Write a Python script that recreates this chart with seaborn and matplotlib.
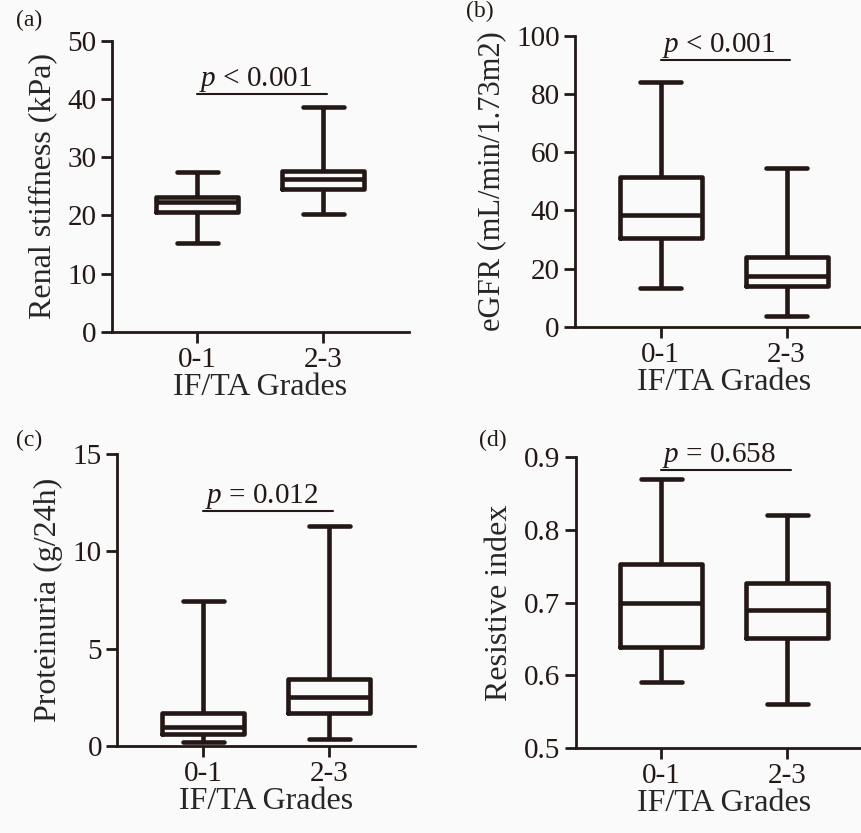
import seaborn as sns
import matplotlib.pyplot as plt
import pandas as pd

# five-number summaries: min, q1, median, q3, max
grades = ["0-1", "2-3"]
stiffness_01 = [15.3, 20.5, 22.3, 23.2, 27.4]
stiffness_23 = [20.3, 24.5, 26.2, 27.6, 38.6]
egfr_01 = [13.4, 30.6, 38.4, 51.5, 84.2]
egfr_23 = [3.7, 14.1, 17.4, 24.1, 54.4]
protein_01 = [0.17, 0.59, 0.95, 1.67, 7.43]
protein_23 = [0.36, 1.67, 2.49, 3.42, 11.3]
ri_01 = [0.59, 0.639, 0.70, 0.753, 0.87]
ri_23 = [0.56, 0.651, 0.69, 0.727, 0.82]

ink = '#231815'
fs = 21

sns.set_style("ticks")
plt.rcParams['font.family'] = ['Liberation Serif', 'DejaVu Serif']
plt.rcParams['mathtext.fontset'] = 'custom'
plt.rcParams['mathtext.rm'] = 'Liberation Serif'
plt.rcParams['mathtext.it'] = 'Liberation Serif:italic'
plt.rcParams['axes.edgecolor'] = ink
plt.rcParams['text.color'] = ink
plt.rcParams['xtick.color'] = ink
plt.rcParams['ytick.color'] = ink

fig = plt.figure(figsize=(8.61, 8.33), dpi=100)
fig.patch.set_facecolor('#fafafa')

panels = [
    # tag, values, ylabel, ylabel size, ylim, yticks, p text, p line y, axes rect, tag position (px)
    ("(a)", (stiffness_01, stiffness_23), "Renal stiffness (kPa)", 23, (0, 50), [0, 10, 20, 30, 40, 50],
     "$p$ < 0.001", 40.8, [0.1297, 0.6018, 0.3453, 0.3493], (16, 10)),
    ("(b)", (egfr_01, egfr_23), "eGFR (mL/min/1.73m2)", 22, (0, 100), [0, 20, 40, 60, 80, 100],
     "$p$ < 0.001", 91.5, [0.6678, 0.6078, 0.3453, 0.3493], (466, 1)),
    ("(c)", (protein_01, protein_23), "Proteinuria (g/24h)", 23, (0, 15), [0, 5, 10, 15],
     "$p$ = 0.012", 12.1, [0.1362, 0.1048, 0.3458, 0.3498], (16, 430)),
    ("(d)", (ri_01, ri_23), "Resistive index", 23, (0.5, 0.9), [0.5, 0.6, 0.7, 0.8, 0.9],
     "$p$ = 0.658", 0.883, [0.6686, 0.1024, 0.3453, 0.3486], (479, 430)),
]

for tag, vals, ylabel, yfs, ylim, yticks, ptxt, py, rect, tagpos in panels:
    ax = fig.add_axes(rect)
    ax.set_facecolor('#fafafa')
    df = pd.DataFrame({"grade": [grades[0]] * 5 + [grades[1]] * 5,
                       "value": list(vals[0]) + list(vals[1])})
    sns.boxplot(x="grade", y="value", data=df, order=grades, ax=ax, fill=False,
                color=ink, saturation=1, width=0.65, whis=(0, 100), linewidth=3.3)
    ax.set_xlim(-0.68, 1.68)
    ax.set_ylim(*ylim)
    ax.set_yticks(yticks)
    if ylim[1] < 1:
        ax.set_yticklabels([f"{t:.1f}" for t in yticks])
    sns.despine(ax=ax)
    for s in ['left', 'bottom']:
        ax.spines[s].set_linewidth(2)
    ax.tick_params(direction='out', length=8, width=2, labelsize=fs, pad=3)
    ax.set_xlabel("IF/TA Grades", fontsize=23, labelpad=0)
    ax.set_ylabel(ylabel, fontsize=yfs, labelpad=7)
    ax.plot([0.0, 1.03], [py, py], color=ink, lw=1.5, clip_on=False)
    ax.text(0.46, py, ptxt, ha='center', va='bottom', fontsize=fs)
    fig.text(tagpos[0] / 861, 1 - tagpos[1] / 833, tag, fontsize=17, ha='left', va='top')

plt.savefig('out.png', dpi=100, facecolor=fig.get_facecolor())
plt.close()
